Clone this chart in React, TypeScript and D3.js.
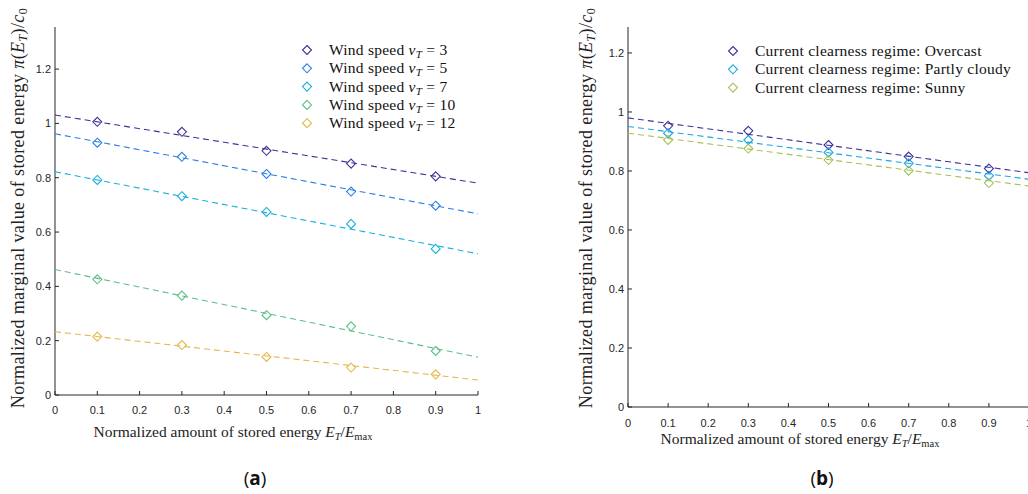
import React from "react";
import * as d3 from "d3";

const xPoints = [0.1, 0.3, 0.5, 0.7, 0.9];

// Panel (a)
const windSpeeds = ["3", "5", "7", "10", "12"];
const windColors = ["#3d3399", "#2a7fe6", "#19b0dc", "#5dbf88", "#e3b94a"];
const windValues = [
  [1.006, 0.969, 0.899, 0.852, 0.805],
  [0.929, 0.877, 0.814, 0.749, 0.697],
  [0.792, 0.732, 0.674, 0.63, 0.538],
  [0.426, 0.366, 0.294, 0.253, 0.162],
  [0.215, 0.184, 0.14, 0.101, 0.076],
];
const windFitStart = [1.031, 0.962, 0.822, 0.462, 0.233];
const windFitEnd = [0.78, 0.667, 0.52, 0.139, 0.055];

// Panel (b)
const regimes = ["Overcast", "Partly cloudy", "Sunny"];
const regimeColors = ["#3d3399", "#19a8e0", "#a5c25a"];
const regimeValues = [
  [0.953, 0.936, 0.888, 0.849, 0.808],
  [0.928, 0.905, 0.863, 0.826, 0.784],
  [0.905, 0.876, 0.837, 0.801, 0.759],
];
const regimeFitStart = [0.98, 0.951, 0.928];
const regimeFitEnd = [0.794, 0.772, 0.749];

const xTicks = [0, 0.1, 0.2, 0.3, 0.4, 0.5, 0.6, 0.7, 0.8, 0.9, 1];
const yTicks = [0, 0.2, 0.4, 0.6, 0.8, 1, 1.2];

const SERIF = "'Liberation Serif', 'DejaVu Serif', serif";
const SANS = "'Liberation Sans', Arial, sans-serif";
const AX = "#262626";

function diamond(cx: number, cy: number, r: number) {
  return `M${cx},${cy - r}L${cx + r},${cy}L${cx},${cy + r}L${cx - r},${cy}Z`;
}

type PanelProps = {
  x0: number; x1: number; y0: number; yTop: number; yMax: number;
  values: number[][]; colors: string[]; fitStart: number[]; fitEnd: number[];
  tickLabelY: number; yLabelX: number; yLabelY: number; xLabelX: number; xLabelY: number;
  legendX: number; legendY: number; legendLabels: React.ReactNode[];
  clipId: string; clipRight: number;
};

function Panel(p: PanelProps) {
  const x = d3.scaleLinear().domain([0, 1]).range([p.x0, p.x1]);
  const y = d3.scaleLinear().domain([0, p.yMax]).range([p.y0, p.yTop]);
  const line = d3.line<[number, number]>().x((d) => x(d[0])).y((d) => y(d[1]));
  const fmt = (v: number) => (v === 0 ? "0" : v === 1 ? "1" : d3.format(".1f")(v));
  return (
    <g>
      <clipPath id={p.clipId}>
        <rect x={p.x0 - 10} y={0} width={p.clipRight - p.x0 + 10} height={494} />
      </clipPath>
      {/* axes */}
      <line x1={p.x0} x2={p.x0} y1={p.yTop} y2={p.y0} stroke={AX} strokeWidth={1} />
      <line x1={p.x0} x2={p.x1} y1={p.y0} y2={p.y0} stroke={AX} strokeWidth={1} />
      {xTicks.map((t) => (
        <g key={"x" + t}>
          <line x1={x(t)} x2={x(t)} y1={p.y0} y2={p.y0 - 4} stroke={AX} />
          <text x={x(t)} y={p.tickLabelY} textAnchor="middle" fontFamily={SANS} fontSize={11} fill={AX}>
            {fmt(t)}
          </text>
        </g>
      ))}
      {yTicks.map((t) => (
        <g key={"y" + t}>
          <line x1={p.x0} x2={p.x0 + 4} y1={y(t)} y2={y(t)} stroke={AX} />
          <text x={p.x0 - 4} y={y(t) + 4} textAnchor="end" fontFamily={SANS} fontSize={11} fill={AX}>
            {fmt(t)}
          </text>
        </g>
      ))}
      {/* data */}
      <g clipPath={`url(#${p.clipId})`}>
        {p.values.map((vals, i) => (
          <g key={"s" + i}>
            <path
              d={line([[0, p.fitStart[i]], [1, p.fitEnd[i]]]) || ""}
              fill="none"
              stroke={p.colors[i]}
              strokeWidth={1.1}
              strokeDasharray="6,4"
            />
            {vals.map((v, j) => (
              <path key={j} d={diamond(x(xPoints[j]), y(v), 4.5)} fill="none" stroke={p.colors[i]} strokeWidth={1.1} />
            ))}
          </g>
        ))}
      </g>
      {/* legend */}
      {p.legendLabels.map((lab, i) => (
        <g key={"l" + i}>
          <path d={diamond(p.legendX, p.legendY + i * 18.3, 4.5)} fill="none" stroke={p.colors[i]} strokeWidth={1.1} />
          <text
            x={p.legendX + 22}
            y={p.legendY + i * 18.3 + 5}
            fontFamily={SERIF}
            fontSize={15.5}
            letterSpacing={0.25}
            fill="#111"
          >
            {lab}
          </text>
        </g>
      ))}
      {/* y label */}
      <text
        transform={`translate(${p.yLabelX},${p.yLabelY}) rotate(-90)`}
        textAnchor="middle"
        fontFamily={SERIF}
        fontSize={18}
        letterSpacing={0.4}
        fill="#222"
      >
        Normalized marginal value of stored energy{" "}
        <tspan fontStyle="italic">π</tspan>(<tspan fontStyle="italic">E</tspan>
        <tspan fontStyle="italic" fontSize={12} dy={3}>T</tspan>
        <tspan dy={-3}>)/</tspan>
        <tspan fontStyle="italic">c</tspan>
        <tspan fontSize={12} dy={3}>0</tspan>
      </text>
      {/* x label */}
      <text x={p.xLabelX} y={p.xLabelY} textAnchor="middle" fontFamily={SERIF} fontSize={15.5} fill="#222">
        Normalized amount of stored energy <tspan fontStyle="italic">E</tspan>
        <tspan fontStyle="italic" fontSize={10.5} dy={3}>T</tspan>
        <tspan dy={-3}>/</tspan>
        <tspan fontStyle="italic">E</tspan>
        <tspan fontSize={10.5} dy={3}>max</tspan>
      </text>
    </g>
  );
}

export default function App() {
  const windLabels = windSpeeds.map((s) => (
    <>
      Wind speed <tspan fontStyle="italic">v</tspan>
      <tspan fontStyle="italic" fontSize={11} dy={3}>T</tspan>
      <tspan dy={-3}> = {s}</tspan>
    </>
  ));
  const regimeLabels = regimes.map((r) => <>Current clearness regime: {r}</>);
  return (
    <svg
      width={1028}
      height={494}
      style={{ position: "absolute", left: 0, top: 0, background: "#fff" }}
    >
      <rect x={0} y={0} width={1028} height={494} fill="#fff" />
      <Panel
        x0={55} x1={478} y0={395} yTop={27} yMax={1.355}
        values={windValues} colors={windColors} fitStart={windFitStart} fitEnd={windFitEnd}
        tickLabelY={414} yLabelX={24} yLabelY={208} xLabelX={233} xLabelY={437}
        legendX={307} legendY={50} legendLabels={windLabels}
        clipId="clipA" clipRight={500}
      />
      <Panel
        x0={628} x1={1029} y0={407} yTop={27} yMax={1.288}
        values={regimeValues} colors={regimeColors} fitStart={regimeFitStart} fitEnd={regimeFitEnd}
        tickLabelY={427} yLabelX={592} yLabelY={208} xLabelX={800} xLabelY={444}
        legendX={733} legendY={51} legendLabels={regimeLabels}
        clipId="clipB" clipRight={1028}
      />
      <text x={255} y={485} textAnchor="middle" fontFamily="'Open Sans', 'Noto Sans', sans-serif" fontSize={19} fill="#111">
        (<tspan fontWeight="bold">a</tspan>)
      </text>
      <text x={822} y={485} textAnchor="middle" fontFamily="'Open Sans', 'Noto Sans', sans-serif" fontSize={19} fill="#111">
        (<tspan fontWeight="bold">b</tspan>)
      </text>
    </svg>
  );
}
